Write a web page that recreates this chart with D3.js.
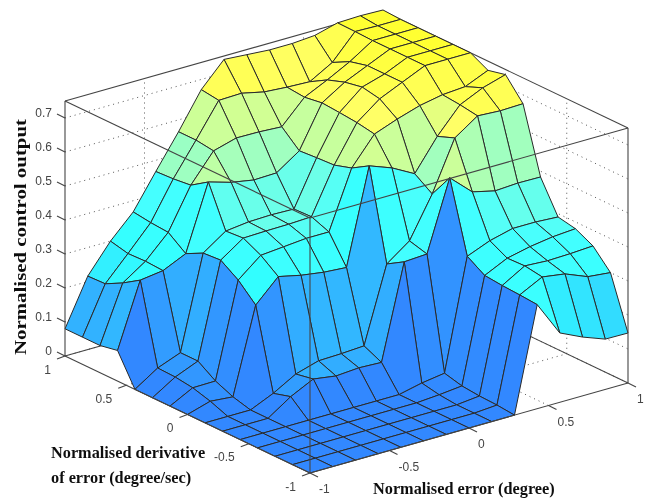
<!DOCTYPE html>
<html>
<head>
<meta charset="utf-8">
<script src="https://cdn.jsdelivr.net/npm/d3@7"></script>
<style>
  html, body { margin: 0; padding: 0; background: #fff; }
  svg { display: block; }
</style>
</head>
<body>
<svg id="chart" width="653" height="498"></svg>
<script>
// grid of the surface, same for both inputs
var gridVals = [-1, -0.857, -0.714, -0.571, -0.429, -0.286, -0.143, 0, 0.143, 0.286, 0.429, 0.571, 0.714, 0.857, 1];

// control output, one list per derivative value (first = -1, last = 1), left to right along error
var row00 = [0, 0, 0, 0, 0, 0, 0, 0, 0, 0, 0.306, 0.204, 0.173, 0.148, 0.147];
var row01 = [0, 0, 0, 0, 0, 0, 0, 0, 0, 0.005, 0.31, 0.344, 0.334, 0.307, 0.30];
var row02 = [0, 0, 0, 0, 0, 0, 0, 0, 0, 0.007, 0.313, 0.352, 0.348, 0.35, 0.354];
var row03 = [0, 0, 0, 0, 0, 0, 0, 0, 0.005, 0.012, 0.318, 0.35, 0.365, 0.375, 0.38];
var row04 = [0, 0, 0, 0, 0, 0, 0, 0, 0.015, 0.025, 0.35, 0.377, 0.394, 0.394, 0.39];
var row05 = [0, 0, 0, 0.045, 0.078, 0.068, 0.073, 0.07, 0.347, 0.351, 0.556, 0.496, 0.48, 0.484, 0.483];
var row06 = [0, 0, 0, 0.03, 0.068, 0.088, 0.09, 0.094, 0.316, 0.365, 0.484, 0.63, 0.676, 0.672, 0.674];
var row07 = [0, 0.02, 0.014, 0.265, 0.33, 0.315, 0.305, 0.30, 0.58, 0.555, 0.519, 0.61, 0.684, 0.715, 0.735];
var row08 = [0, 0.035, 0.036, 0.314, 0.368, 0.374, 0.38, 0.38, 0.549, 0.63, 0.655, 0.676, 0.689, 0.694, 0.723];
var row09 = [0, 0.042, 0.07, 0.348, 0.394, 0.396, 0.397, 0.40, 0.533, 0.639, 0.69, 0.72, 0.75, 0.75, 0.75];
var row10 = [0, 0.044, 0.07, 0.344, 0.39, 0.398, 0.40, 0.398, 0.53, 0.644, 0.70, 0.72, 0.75, 0.75, 0.75];
var row11 = [0.09, 0.278, 0.287, 0.318, 0.51, 0.49, 0.478, 0.48, 0.526, 0.648, 0.69, 0.72, 0.75, 0.75, 0.75];
var row12 = [0.08, 0.245, 0.29, 0.356, 0.476, 0.558, 0.577, 0.576, 0.572, 0.64, 0.672, 0.707, 0.75, 0.75, 0.75];
var row13 = [0.08, 0.218, 0.288, 0.36, 0.47, 0.565, 0.663, 0.665, 0.65, 0.645, 0.642, 0.68, 0.752, 0.75, 0.75];
var row14 = [0.08, 0.216, 0.30, 0.367, 0.467, 0.565, 0.67, 0.74, 0.735, 0.73, 0.73, 0.735, 0.753, 0.755, 0.753];
var surface = [row00, row01, row02, row03, row04, row05, row06, row07, row08, row09, row10, row11, row12, row13, row14];

var xTicks = [-1, -0.5, 0, 0.5, 1];
var yTicks = [-1, -0.5, 0, 0.5, 1];
var zTicks = [0, 0.1, 0.2, 0.3, 0.4, 0.5, 0.6, 0.7];

var svg = d3.select("#chart");

// the reference is a soft screenshot, so everything gets a very light blur
svg.append("defs").append("filter")
   .attr("id", "soft")
   .attr("x", 0).attr("y", 0).attr("width", 1).attr("height", 1)
   .attr("filterUnits", "objectBoundingBox")
   .append("feGaussianBlur")
   .attr("stdDeviation", 0.4);
svg.append("rect").attr("width", 653).attr("height", 498).attr("fill", "#fff");
var root = svg.append("g").attr("filter", "url(#soft)");
root.append("rect").attr("width", 653).attr("height", 498).attr("fill", "#fff");

// oblique view, each input moves the point along its own screen direction
var xToLeft = d3.scaleLinear().domain([-1, 1]).range([0, 318]);
var xToTop = d3.scaleLinear().domain([-1, 1]).range([0, -90]);
var yToLeft = d3.scaleLinear().domain([-1, 1]).range([0, -245]);
var yToTop = d3.scaleLinear().domain([-1, 1]).range([0, -117]);
var zToTop = d3.scaleLinear().domain([0, 0.75]).range([0, -255]);

function project(x, y, z) {
  return [310 + xToLeft(x) + yToLeft(y), 473 + xToTop(x) + yToTop(y) + zToTop(z)];
}

var colour = d3.scaleLinear()
  .domain([0, 0.04, 0.07, 0.1, 0.15, 0.27, 0.36, 0.39, 0.41, 0.49, 0.515, 0.56, 0.6, 0.63, 0.75])
  .range(["#3388ff", "#3399ff", "#33aeff", "#33bbff", "#33ddff", "#33ffff", "#44ffff", "#60fff0", "#77ffe0",
          "#a6ffbb", "#c4ff9f", "#ccff99", "#d8ff8c", "#ffff66", "#ffff33"]);

var lineColour = "#444";
var zTop = 0.75;

function seg(a, b) {
  root.append("line")
     .attr("x1", a[0]).attr("y1", a[1])
     .attr("x2", b[0]).attr("y2", b[1])
     .attr("stroke", lineColour)
     .attr("stroke-width", 1.1);
}
function dots(a, b) {
  root.append("line")
     .attr("x1", a[0]).attr("y1", a[1])
     .attr("x2", b[0]).attr("y2", b[1])
     .attr("stroke", "#555")
     .attr("stroke-width", 1)
     .attr("stroke-dasharray", "1 4");
}

//////////////////////////////////////////////////////////////////
// Back walls and floor grid
zTicks.forEach(function(z) {
  dots(project(-1, 1, z), project(1, 1, z));
  dots(project(1, 1, z), project(1, -1, z));
});
xTicks.slice(1, 4).forEach(function(x) {
  dots(project(x, 1, 0), project(x, 1, zTop));
  dots(project(x, -1, 0), project(x, 1, 0));
});
yTicks.slice(1, 4).forEach(function(y) {
  dots(project(1, y, 0), project(1, y, zTop));
  dots(project(-1, y, 0), project(1, y, 0));
});
seg(project(-1, 1, 0), project(1, 1, 0));
seg(project(1, 1, 0), project(1, -1, 0));
seg(project(-1, 1, zTop), project(1, 1, zTop));
seg(project(1, 1, zTop), project(1, -1, zTop));
seg(project(1, 1, 0), project(1, 1, zTop));

//////////////////////////////////////////////////////////////////
// Surface, far cells first. Cell colour comes from its lowest index corner
var cells = [];
for (var j = gridVals.length - 2; j >= 0; j--) {
  for (var i = gridVals.length - 2; i >= 0; i--) {
    cells.push({ i: i, j: j });
  }
}
cells.sort(function(a, b) { return (b.i + b.j) - (a.i + a.j); });

root.selectAll(".cell")
   .data(cells)
   .enter()
   .append("path")
   .attr("class", "cell")
   .attr("d", function(d) {
     var pts = [[d.i, d.j], [d.i + 1, d.j], [d.i + 1, d.j + 1], [d.i, d.j + 1]].map(function(c) {
       return project(gridVals[c[0]], gridVals[c[1]], surface[c[1]][c[0]]);
     });
     return d3.line()(pts) + "Z";
   })
   .attr("fill", function(d) { return colour(surface[d.j][d.i]); })
   .attr("stroke", "#2a2a2a")
   .attr("stroke-width", 1)
   .attr("stroke-linejoin", "round");

//////////////////////////////////////////////////////////////////
// Front of the box, over the surface
seg(project(-1, 1, 0), project(-1, -1, 0));
seg(project(-1, -1, 0), project(1, -1, 0));
seg(project(-1, 1, zTop), project(-1, -1, zTop));
seg(project(-1, -1, zTop), project(1, -1, zTop));
seg(project(-1, 1, 0), project(-1, 1, zTop));
seg(project(1, -1, 0), project(1, -1, zTop));
seg(project(-1, -1, 0), project(-1, -1, zTop));

// Ticks and labels
var tickFont = "Liberation Sans, Arial, sans-serif";
function tickLabel(px, py, txt, anchor) {
  root.append("text")
     .attr("x", px).attr("y", py)
     .attr("text-anchor", anchor)
     .attr("dominant-baseline", "central")
     .attr("font-family", tickFont)
     .attr("font-size", 12)
     .attr("fill", "#444")
     .text(txt);
}
zTicks.forEach(function(z) {
  var p = project(-1, 1, z);
  seg(p, [p[0] - 8, p[1] - 4]);
  tickLabel(52, p[1] - 5, String(z), "end");
});
xTicks.forEach(function(x) {
  var p = project(x, -1, 0);
  seg(p, [p[0] + 8, p[1] + 4]);
  tickLabel(p[0] + 9, p[1] + 16, String(x), "start");
});
yTicks.forEach(function(y) {
  var p = project(-1, y, 0);
  seg(p, [p[0] - 8, p[1] + 3]);
  tickLabel(p[0] - 14, p[1] + 13.5, String(y), "end");
});

// Axis titles
function title(px, py, txt, rot) {
  var t = root.append("text")
     .attr("font-family", "Liberation Serif, Times New Roman, serif")
     .attr("font-weight", "bold")
     .attr("font-size", 16.3)
     .attr("fill", "#111")
     .text(txt);
  if (rot) {
    t.attr("text-anchor", "middle")
     .attr("textLength", 236)
     .attr("lengthAdjust", "spacingAndGlyphs")
     .attr("transform", "translate(" + px + "," + py + ") rotate(-90)");
  } else {
    t.attr("x", px).attr("y", py);
  }
}
title(26, 237, "Normalised control output", true);
title(51, 458, "Normalised derivative");
title(51, 483, "of error (degree/sec)");
title(373, 494, "Normalised error (degree)");
</script>
</body>
</html>
